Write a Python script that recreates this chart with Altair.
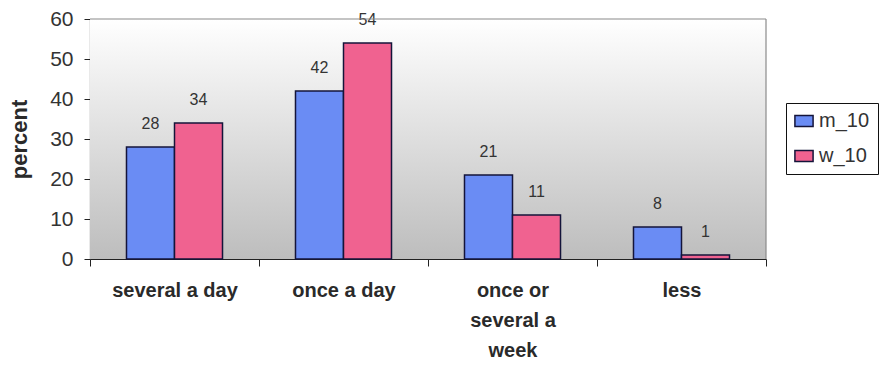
import altair as alt
import pandas as pd

categories = ["several a day", "once a day", "once or several a week", "less"]
m_10 = [28, 42, 21, 8]
w_10 = [34, 54, 11, 1]
series = ["m_10", "w_10"]
y_ticks = [0, 10, 20, 30, 40, 50, 60]

rows = []
for i, cat in enumerate(categories):
    rows.append({"freq": cat, "group": "m_10", "percent": m_10[i]})
    rows.append({"freq": cat, "group": "w_10", "percent": w_10[i]})
df = pd.DataFrame(rows)

W, H = 676, 240
FONT = "Liberation Sans"

x_enc = alt.X(
    "freq:N",
    sort=categories,
    scale=alt.Scale(paddingInner=0, paddingOuter=0),
    axis=alt.Axis(
        title=None,
        labelAngle=0,
        labelFont=FONT,
        labelFontSize=20,
        labelFontWeight="bold",
        labelColor="#2a2a2a",
        labelPadding=14,
        labelLineHeight=30,
        labelLimit=300,
        labelExpr="datum.label == 'once or several a week' ? ['once or', 'several a', 'week'] : datum.label",
        tickBand="extent",
        tickSize=7,
        tickColor="#222",
        domainColor="#222",
        domainWidth=1.2,
        grid=False,
    ),
)
xoff_enc = alt.XOffset(
    "group:N", sort=series, scale=alt.Scale(paddingInner=0, paddingOuter=0.76)
)
y_enc = alt.Y(
    "percent:Q",
    scale=alt.Scale(domain=[0, 60], nice=False, zero=True),
    axis=alt.Axis(
        title="percent",
        titleFont=FONT,
        titleFontSize=22,
        titleFontWeight="bold",
        titleColor="#2a2a2a",
        titlePadding=18,
        values=y_ticks,
        labelOverlap=False,
        labelFont=FONT,
        labelFontSize=21,
        labelColor="#333333",
        labelPadding=11,
        tickSize=6,
        tickColor="#222",
        domainColor="#222",
        domainWidth=1.2,
        grid=False,
    ),
)

# gradient plot background
bg = alt.Chart(pd.DataFrame({"a": [0]})).mark_rect(
    color=alt.LinearGradient(
        gradient="linear",
        x1=0, y1=0, x2=0, y2=1,
        stops=[
            alt.GradientStop(color="#ffffff", offset=0),
            alt.GradientStop(color="#bdbdbd", offset=1),
        ],
    )
).encode(x=alt.value(0), x2=alt.value(W), y=alt.value(0), y2=alt.value(H))

frame = alt.Chart(pd.DataFrame({"a": [0]})).mark_rule(color="#8a8a8a", strokeWidth=1.2).encode(
    x=alt.value(0), x2=alt.value(W), y=alt.value(0)
)
frame_r = alt.Chart(pd.DataFrame({"a": [0]})).mark_rule(color="#8a8a8a", strokeWidth=1.2).encode(
    x=alt.value(W), y=alt.value(0), y2=alt.value(H)
)

bars = alt.Chart(df).mark_bar(stroke="#14143a", strokeWidth=1.5).encode(
    x=x_enc,
    xOffset=xoff_enc,
    y=y_enc,
    color=alt.Color(
        "group:N",
        scale=alt.Scale(domain=series, range=["#6a8cf4", "#f06290"]),
        legend=alt.Legend(
            title=None,
            orient="none",
            legendX=W + 20,
            legendY=84,
            strokeColor="#111",
            padding=8,
            symbolType="M-1,-0.6H1V0.6H-1Z",
            symbolSize=330,
            symbolStrokeColor="#14143a",
            symbolStrokeWidth=1.5,
            labelFont=FONT,
            labelFontSize=20,
            labelColor="#333333",
            labelOffset=5,
            rowPadding=15,
        ),
    ),
)

labels = alt.Chart(df).mark_text(
    baseline="bottom", dy=-15, font=FONT, fontSize=16, color="#333333"
).encode(
    x=x_enc,
    xOffset=xoff_enc,
    y=y_enc,
    text=alt.Text("percent:Q"),
)

chart = (
    alt.layer(bg, bars, labels, frame, frame_r)
    .properties(
        width=W,
        height=H,
        autosize=alt.AutoSizeParams(type="none"),
        padding={"left": 90, "top": 19, "right": 117, "bottom": 106},
        background="white",
    )
    .configure_view(stroke=None)
)

chart.save("out.html", embed_options={"renderer": "svg", "actions": False})
